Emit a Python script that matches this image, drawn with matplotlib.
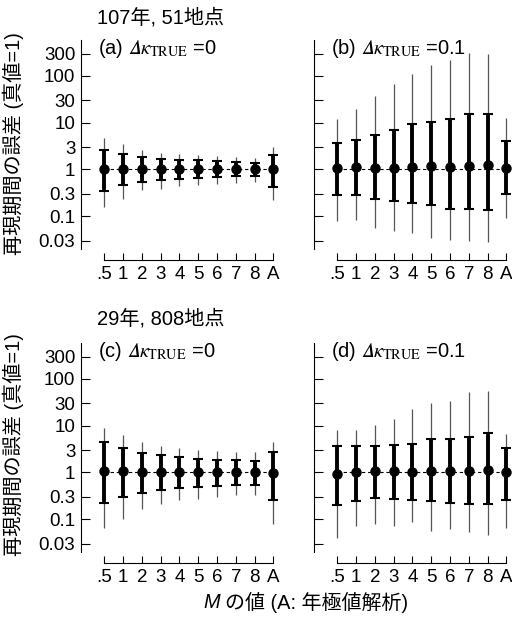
import matplotlib
matplotlib.use('Agg')
import matplotlib.pyplot as plt
import numpy as np

plt.rcParams['font.family'] = ['Liberation Sans', 'Noto Sans CJK JP']
plt.rcParams['mathtext.fontset'] = 'stix'

m_labels = ['.5', '1', '2', '3', '4', '5', '6', '7', '8', 'A']
y_ticks = [0.03, 0.1, 0.3, 1, 3, 10, 30, 100, 300]
y_ticklabels = ['0.03', '0.1', '0.3', '1', '3', '10', '30', '100', '300']

# (a) 107 years, 51 sites, dk=0
a_med = [1.0, 1.0, 1.0, 1.0, 1.0, 1.0, 1.0, 1.0, 1.0, 1.0]
a_qlo = [0.344, 0.455, 0.536, 0.58, 0.61, 0.65, 0.69, 0.71, 0.72, 0.42]
a_qhi = [2.55, 2.16, 1.84, 1.69, 1.61, 1.56, 1.51, 1.44, 1.39, 2.06]
a_wlo = [0.156, 0.236, 0.355, 0.386, 0.44, 0.47, 0.49, 0.52, 0.54, 0.217]
a_whi = [4.76, 3.43, 2.55, 2.24, 2.09, 1.99, 1.93, 1.84, 1.78, 3.0]

# (b) 107 years, 51 sites, dk=0.1
b_med = [1.07, 1.1, 1.07, 1.09, 1.12, 1.16, 1.12, 1.18, 1.22, 1.07]
b_qlo = [0.287, 0.287, 0.236, 0.21, 0.19, 0.17, 0.144, 0.14, 0.137, 0.30]
b_qhi = [3.66, 4.17, 5.34, 6.8, 9.2, 10.3, 12.1, 15.5, 15.5, 3.97]
b_wlo = [0.078, 0.081, 0.056, 0.048, 0.043, 0.034, 0.031, 0.03, 0.028, 0.092]
b_whi = [12.1, 19.9, 37, 68, 111, 168, 222, 313, 298, 12.7]

# (c) 29 years, 808 sites, dk=0
c_med = [1.07, 1.07, 1.03, 1.01, 1.0, 1.0, 1.0, 1.0, 1.0, 0.97]
c_qlo = [0.222, 0.294, 0.36, 0.41, 0.46, 0.48, 0.51, 0.53, 0.54, 0.25]
c_qhi = [4.36, 3.34, 2.61, 2.32, 2.14, 1.97, 1.88, 1.82, 1.77, 2.74]
c_wlo = [0.063, 0.10, 0.165, 0.215, 0.25, 0.27, 0.29, 0.32, 0.33, 0.078]
c_whi = [9.0, 6.27, 4.5, 3.69, 3.35, 2.98, 2.84, 2.74, 2.7, 4.5]

# (d) 29 years, 808 sites, dk=0.1
d_med = [0.94, 1.02, 1.07, 1.05, 1.02, 1.05, 1.05, 1.05, 1.10, 1.0]
d_qlo = [0.20, 0.24, 0.28, 0.27, 0.25, 0.24, 0.22, 0.21, 0.21, 0.25]
d_qhi = [3.69, 3.63, 3.63, 3.8, 4.1, 5.1, 5.3, 5.8, 7.0, 3.34]
d_wlo = [0.040, 0.072, 0.078, 0.072, 0.088, 0.056, 0.061, 0.054, 0.045, 0.066]
d_whi = [8.0, 8.0, 10.3, 13.9, 22.8, 30, 34, 52, 56, 6.6]

kappa = '$\U0001D6E5\\kappa_{\\mathrm{TRUE}}$'


def draw(ax, med, qlo, qhi, wlo, whi, label, show_y):
    x = np.arange(len(m_labels))
    med = np.array(med)
    ax.plot(x, np.ones(len(x)), ls=(0, (3, 2.5)), color='k', lw=0.8, zorder=1)
    ax.vlines(x, wlo, whi, color='#555555', lw=0.9, zorder=2)
    ax.errorbar(x, med, yerr=[med - np.array(qlo), np.array(qhi) - med],
                fmt='o', color='k', ms=6.5, elinewidth=2.8,
                capsize=3.6, capthick=1.5, zorder=3)
    ax.set_yscale('log')
    ax.set_ylim(0.0115, 580)
    ax.set_xlim(-1.25, 9.3)
    ax.set_yticks(y_ticks)
    ax.set_yticklabels(y_ticklabels if show_y else [])
    ax.minorticks_off()
    ax.set_xticks(x)
    ax.set_xticklabels(m_labels)
    for s in ['top', 'right']:
        ax.spines[s].set_visible(False)
    ax.spines['left'].set_bounds(0.02, 580)
    ax.spines['bottom'].set_bounds(0, 9)
    for s in ['left', 'bottom']:
        ax.spines[s].set_linewidth(0.8)
    ax.tick_params(axis='y', direction='in', length=6.5, width=0.8,
                   labelsize=13.5, pad=4)
    ax.tick_params(axis='x', direction='in', length=5, width=0.8,
                   labelsize=13.5, pad=4)
    ax.text(0.085, 0.962, label, transform=ax.transAxes, ha='left',
            va='center', fontsize=14.5)


fig = plt.figure(figsize=(5.12, 6.19), dpi=100)
ax_a = fig.add_axes([0.158, 0.580, 0.387, 0.355])
ax_b = fig.add_axes([0.613, 0.580, 0.387, 0.355])
ax_c = fig.add_axes([0.158, 0.0905, 0.387, 0.355])
ax_d = fig.add_axes([0.613, 0.0905, 0.387, 0.355])

draw(ax_a, a_med, a_qlo, a_qhi, a_wlo, a_whi, '(a) ' + kappa + ' =0', True)
draw(ax_b, b_med, b_qlo, b_qhi, b_wlo, b_whi, '(b) ' + kappa + ' =0.1', False)
draw(ax_c, c_med, c_qlo, c_qhi, c_wlo, c_whi, '(c) ' + kappa + ' =0', True)
draw(ax_d, d_med, d_qlo, d_qhi, d_wlo, d_whi, '(d) ' + kappa + ' =0.1', False)

fig.text(97 / 512, 1 - 18 / 619, '107年, 51地点', ha='left', va='center', fontsize=14.5)
fig.text(97 / 512, 1 - 319 / 619, '29年, 808地点', ha='left', va='center', fontsize=14.5)
fig.text(13 / 512, 1 - 144 / 619, '再現期間の誤差 (真値=1)', rotation=90,
         ha='center', va='center', fontsize=14.5)
fig.text(13 / 512, 1 - 445 / 619, '再現期間の誤差 (真値=1)', rotation=90,
         ha='center', va='center', fontsize=14.5)
fig.text(203 / 512, 1 - 602 / 619, 'M', style='italic',
         ha='left', va='center', fontsize=14.4)
fig.text(225 / 512, 1 - 602 / 619, 'の値 (A: 年極値解析)',
         ha='left', va='center', fontsize=14.4)

fig.savefig('out.png', dpi=100)
